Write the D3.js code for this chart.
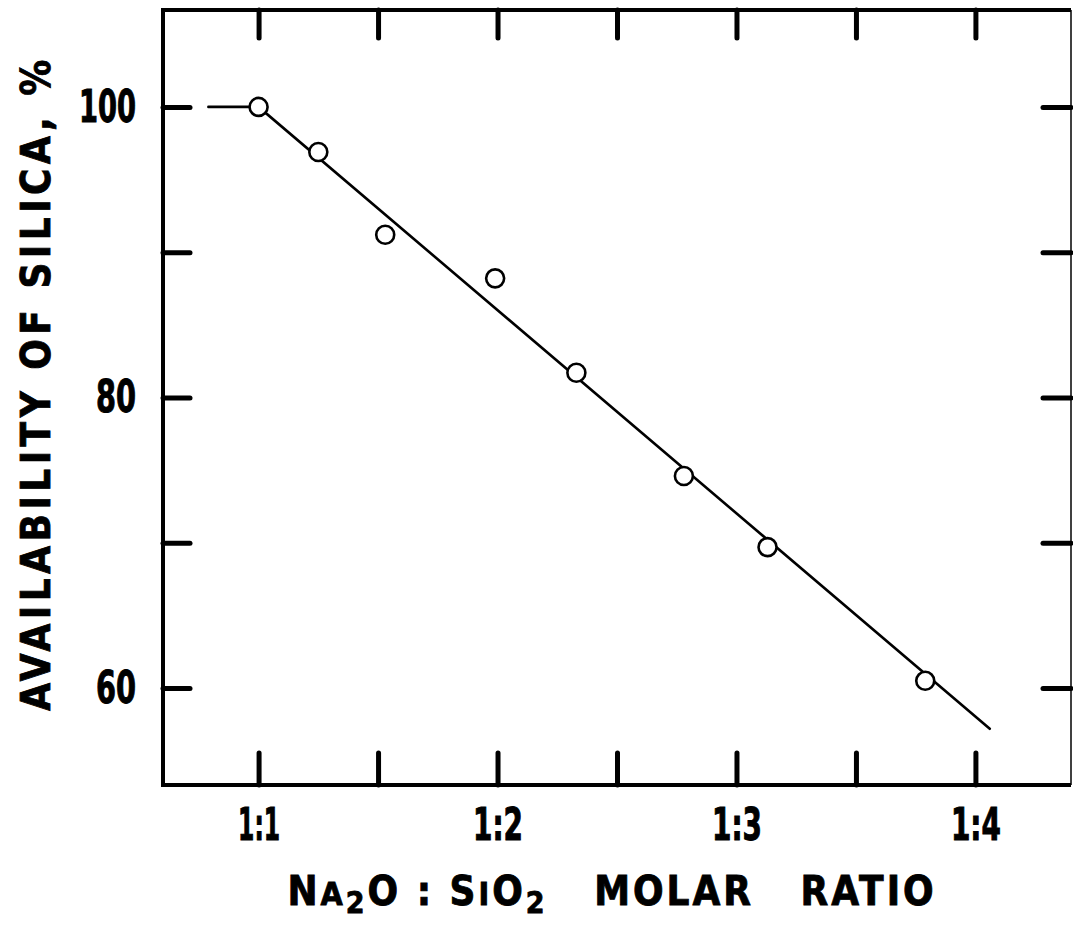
<!DOCTYPE html>
<html>
<head>
<meta charset="utf-8">
<script src="https://cdn.jsdelivr.net/npm/d3@7"></script>
<style>
  body { margin: 0; background: #fff; }
  .tick line { stroke: #000; stroke-width: 5; stroke-linecap: round; }
  .tick text { font-family: "DejaVu Sans Condensed", "DejaVu Sans", sans-serif; font-weight: bold; fill: #000; stroke: #000; stroke-width: 1; }
  .domain { display: none; }
</style>
</head>
<body>
<svg id="chart" width="1073" height="930"></svg>
<script>
// molar ratio (SiO2 per Na2O) and silica availability, %
var ratio = [1.0, 1.25, 1.53, 1.99, 2.33, 2.78, 3.13, 3.79];
var availability = [100, 96.9, 91.2, 88.2, 81.7, 74.6, 69.7, 60.5];

// fitted line
var fitRatio = [0.79, 1.0, 4.06];
var fitAvail = [100, 100, 57.2];

var xTicks = [1, 1.5, 2, 2.5, 3, 3.5, 4];
var yTicks = [60, 70, 80, 90, 100];

var svg = d3.select("#chart");
var plotL = 163, plotR = 1071, plotT = 10, plotB = 785;

var x = d3.scaleLinear().domain([0.6, 4.4]).range([plotL, plotR]);
var y = d3.scaleLinear().domain([53.33, 106.67]).range([plotB, plotT]);

// squeeze a label to a target width (the original lettering is narrow)
function squeeze(sel, widthOf, dx) {
  sel.each(function(d) {
    var w = widthOf(d);
    if (!w) return;
    var t = d3.select(this);
    var natural = this.getComputedTextLength();
    t.attr("x", 0).attr("transform", "translate(" + dx + ",0) scale(" + (w / natural) + ",1)");
  });
}

// frame
svg.append("path")
  .attr("d", "M" + plotR + "," + plotT + "H" + plotL + "V" + plotB + "H" + plotR)
  .attr("fill", "none").attr("stroke", "#000").attr("stroke-width", 4);
svg.append("line")
  .attr("x1", plotR).attr("x2", plotR).attr("y1", plotT).attr("y2", plotB)
  .attr("stroke", "#000").attr("stroke-width", 1.5);

// axes, ticks pointing inwards
svg.append("g").attr("transform", "translate(0," + plotB + ")")
  .call(d3.axisBottom(x).tickValues(xTicks).tickSize(-32).tickPadding(24)
    .tickFormat(function(d) { return Number.isInteger(d) ? "1:" + d : ""; }))
  .selectAll("text")
  .style("font-size", "44px")
  .call(squeeze, function(d) { return Number.isInteger(d) ? (d === 1 ? 42 : 50) : 0; }, 0);

svg.append("g").attr("transform", "translate(0," + plotT + ")")
  .call(d3.axisTop(x).tickValues(xTicks).tickSize(-28).tickFormat(""));

svg.append("g").attr("transform", "translate(" + plotL + ",0)")
  .call(d3.axisLeft(y).tickValues(yTicks).tickSize(-27).tickPadding(27)
    .tickFormat(function(d) { return d % 20 === 0 ? d : ""; }))
  .selectAll("text")
  .style("font-size", "44px")
  .call(squeeze, function(d) { return d % 20 === 0 ? (d === 100 ? 57 : 40) : 0; }, -27);

svg.append("g").attr("transform", "translate(" + plotR + ",0)")
  .call(d3.axisRight(y).tickValues(yTicks).tickSize(-28).tickFormat(""));

// fitted line
var line = d3.line()
  .x(function(d, i) { return x(fitRatio[i]); })
  .y(function(d, i) { return y(fitAvail[i]); });

svg.append("path")
  .datum(fitRatio)
  .attr("d", line)
  .attr("fill", "none").attr("stroke", "#000").attr("stroke-width", 2.6)
  .attr("stroke-linecap", "round");

// points
svg.selectAll(".pt")
  .data(ratio)
  .enter().append("circle")
  .attr("class", "pt")
  .attr("cx", function(d) { return x(d); })
  .attr("cy", function(d, i) { return y(availability[i]); })
  .attr("r", 9)
  .attr("fill", "#fff").attr("stroke", "#000").attr("stroke-width", 2.6);

// axis titles
var font = "'DejaVu Sans Condensed', 'DejaVu Sans', sans-serif";

svg.append("text")
  .attr("transform", "translate(50,383) rotate(-90)")
  .attr("text-anchor", "middle")
  .style("font-family", font).style("font-weight", "bold")
  .style("stroke", "#000").style("stroke-width", 0.8)
  .style("font-size", "40px").style("letter-spacing", "4.5px")
  .text("AVAILABILITY OF SILICA, %");

var xt = svg.append("text")
  .attr("x", 612).attr("y", 905)
  .attr("text-anchor", "middle")
  .style("font-family", font).style("font-weight", "bold")
  .style("stroke", "#000").style("stroke-width", 0.8)
  .style("font-size", "40px").style("letter-spacing", "3px");
xt.append("tspan").text("N");
xt.append("tspan").style("font-size", "32px").text("A");
xt.append("tspan").attr("dy", 8).style("font-size", "30px").text("2");
xt.append("tspan").attr("dy", -8).text("O : S");
xt.append("tspan").style("font-size", "32px").text("I");
xt.append("tspan").text("O");
xt.append("tspan").attr("dy", 8).style("font-size", "30px").text("2");
xt.append("tspan").attr("dy", -8).attr("xml:space", "preserve").text("   MOLAR   RATIO");
</script>
</body>
</html>
